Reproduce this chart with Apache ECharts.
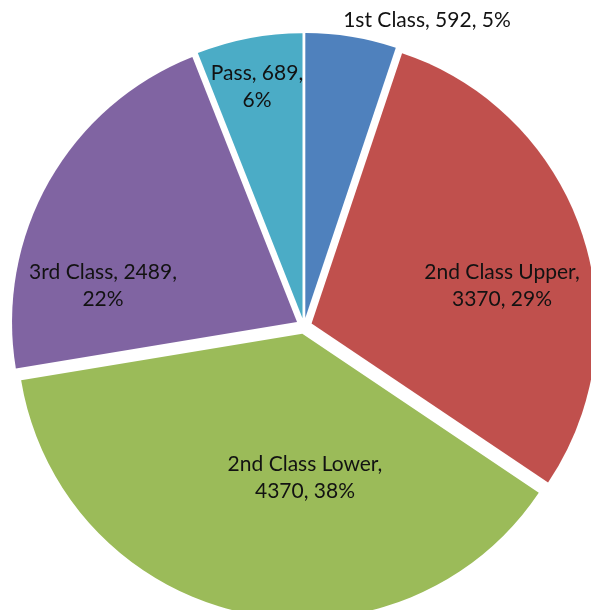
<!DOCTYPE html>
<html>
<head>
<meta charset="utf-8">
<title>Classification pie</title>
<script src="https://cdn.jsdelivr.net/npm/echarts@6/dist/echarts.min.js"></script>
<style>
 html, body { margin: 0; padding: 0; background: #fff; }
 #chart { width: 591px; height: 610px; }
</style>
</head>
<body>
<div id="chart"></div>
<script>
// data
const categories = ['1st Class', '2nd Class Upper', '2nd Class Lower', '3rd Class', 'Pass']
const counts = [592, 3370, 4370, 2489, 689]
const colors = ['#4f81bd', '#c0504d', '#9bbb59', '#8064a2', '#4bacc6']
// where each label breaks onto a second line
const breakAfter = ['none', 'name', 'name', 'value', 'value']
// label centres (px) as Excel placed them
const labelX = [427, 502, 305, 103, 257]
const labelY = [20, 286, 478, 286, 87]

const chart = echarts.init(document.getElementById('chart'))

const pieCenter = [304, 326]
const pieRadius = 285

const labelText = (p) => {
 const b = breakAfter[p.dataIndex]
 const sep1 = b === 'name' ? ',\n' : ', '
 const sep2 = b === 'value' ? ',\n' : ', '
 return p.name + sep1 + p.value + sep2 + p.percent + '%'
}

const option = {
 animation: false,
 series: [
  {
   // the exploded slices
   type: 'pie',
   center: pieCenter,
   radius: pieRadius,
   startAngle: 90,
   clockwise: true,
   selectedMode: 'multiple',
   selectedOffset: 8,
   label: { show: false },
   labelLine: { show: false },
   emphasis: { disabled: true },
   data: categories.map((name, i) => ({
    name: name,
    value: counts[i],
    selected: true,
    itemStyle: { color: colors[i] }
   }))
  },
  {
   // same data, invisible, only carries the data labels
   type: 'pie',
   silent: true,
   center: pieCenter,
   radius: pieRadius,
   startAngle: 90,
   clockwise: true,
   percentPrecision: 0,
   itemStyle: { color: 'rgba(0,0,0,0)' },
   label: {
    show: true,
    position: 'inside',
    color: '#121212',
    fontFamily: 'Lato',
    fontSize: 21,
    lineHeight: 27,
    align: 'center',
    formatter: labelText
   },
   labelLine: { show: false },
   labelLayout: (params) => ({
    x: labelX[params.dataIndex],
    y: labelY[params.dataIndex],
    align: 'center',
    verticalAlign: 'middle'
   }),
   emphasis: { disabled: true },
   data: categories.map((name, i) => ({ name: name, value: counts[i] }))
  }
 ]
}

chart.setOption(option)
</script>
</body>
</html>
